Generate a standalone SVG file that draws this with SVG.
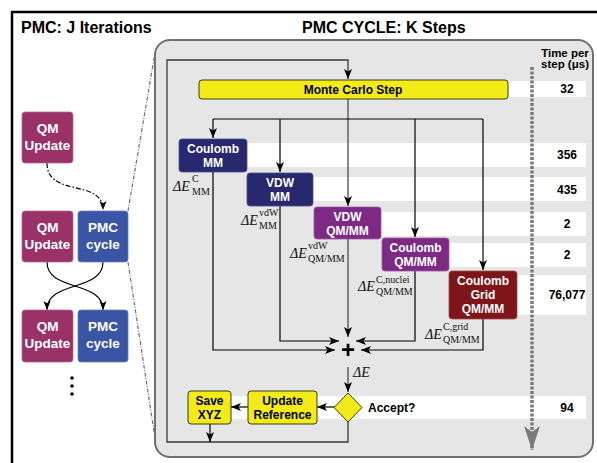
<svg xmlns="http://www.w3.org/2000/svg" width="597" height="463" viewBox="0 0 597 463">
  <style>
    .t { font-family: "Liberation Sans", Arial, sans-serif; font-weight: bold; }
    .title { font-size: 16px; fill: #000; }
    .node { font-size: 12px; fill: #fff; text-anchor: middle; }
    .big { font-size: 13.5px; fill: #fff; text-anchor: middle; }
    .ybox { font-size: 12px; fill: #000; text-anchor: middle; }
    .num { font-size: 12px; fill: #000; text-anchor: middle; }
    .m { font-family: "Liberation Serif", "Times New Roman", serif; fill: #111; }
    .mE { font-size: 14px; font-style: italic; }
    .ms { font-size: 10px; }
    .blk { fill: none; stroke: #000; stroke-width: 1.2; }
    .gry { fill: none; stroke: #6a6a6a; stroke-width: 1.6; }
    .loop { fill: none; stroke: #3a3a3a; stroke-width: 1.3; }
    .strip { fill: #fff; }
    .navy { fill: #27286e; stroke: #4a4c8c; stroke-width: 0.8; }
    .purp { fill: #7c2a84; stroke: #9a58a0; stroke-width: 0.8; }
    .red { fill: #7e1518; stroke: #9e4a4c; stroke-width: 0.8; }
    .qm { fill: #9a3167; stroke: #b76893; stroke-width: 0.8; }
    .pmc { fill: #3a54a6; stroke: #6b80c0; stroke-width: 0.8; }
    .yel { fill: #f3eb16; stroke: #3a3a1a; stroke-width: 1; }
  </style>
  <defs>
    <marker id="ah" viewBox="0 0 10 8" refX="10" refY="4" markerWidth="10" markerHeight="8" markerUnits="userSpaceOnUse" orient="auto">
      <path d="M0,0 L10,4 L0,8 L2.5,4 z" fill="#000"/>
    </marker>
    <marker id="ahs" viewBox="0 0 10 8" refX="10" refY="4" markerWidth="9" markerHeight="8" markerUnits="userSpaceOnUse" orient="auto">
      <path d="M0,0 L10,4 L0,8 L2.5,4 z" fill="#000"/>
    </marker>
    <marker id="ahg" viewBox="0 0 24 16" refX="24" refY="8" markerWidth="24" markerHeight="16" markerUnits="userSpaceOnUse" orient="auto">
      <path d="M0,0 L24,8 L0,16 L6,8 z" fill="#7a7a7a"/>
    </marker>
  </defs>

  <!-- outer frame -->
  <rect x="12" y="12" width="600" height="460" fill="#fff" stroke="#000" stroke-width="2.5"/>

  <text class="t title" x="21" y="33">PMC: J Iterations</text>
  <text class="t title" x="302" y="33">PMC CYCLE: K Steps</text>

  <!-- cycle panel -->
  <rect x="155" y="40" width="438" height="417" rx="15" fill="#e6e6e6" stroke="#707070" stroke-width="2"/>

  <!-- timing rows -->
  <g id="rows">
    <rect class="strip" x="500" y="81" width="86" height="16"/>
    <rect class="strip" x="247" y="143" width="339" height="24"/>
    <rect class="strip" x="313" y="177" width="273" height="24"/>
    <rect class="strip" x="381" y="212" width="205" height="24"/>
    <rect class="strip" x="449" y="243" width="137" height="24"/>
    <rect class="strip" x="517" y="275" width="69" height="40"/>
    <rect class="strip" x="231" y="396" width="355" height="23"/>
  </g>

  <!-- zoom guide lines -->
  <g id="guides" fill="none" stroke="#707070" stroke-width="1.2" stroke-dasharray="4 1.5 1 1.5">
    <line x1="128" y1="211" x2="155" y2="53"/>
    <line x1="128" y1="262" x2="155" y2="438"/>
  </g>

  <g id="connectors">
    <!-- left column -->
    <path class="blk" d="M47,163 C47,198 103,178 103,210" stroke-dasharray="5 2 1.5 2" marker-end="url(#ahs)"/>
    <path class="blk" d="M47,262 C47,292 103,280 103,310" marker-end="url(#ahs)"/>
    <path class="blk" d="M103,262 C103,292 47,280 47,310" marker-end="url(#ahs)"/>

    <!-- main loop -->
    <path class="loop" d="M348,422 V442 H167 V60 H348 V79" marker-end="url(#ah)"/>
    <path class="gry" d="M348,99 V206" marker-end="url(#ah)"/>
    <path class="gry" d="M348,239 V337" marker-end="url(#ah)"/>
    <path class="gry" d="M348,367 V392" marker-end="url(#ah)"/>

    <!-- fan out -->
    <path class="blk" d="M213,119 H483"/>
    <path class="blk" d="M213,119 V138" marker-end="url(#ah)"/>
    <path class="blk" d="M280,119 V172" marker-end="url(#ah)"/>
    <path class="blk" d="M415,119 V237" marker-end="url(#ah)"/>
    <path class="blk" d="M483,119 V270" marker-end="url(#ah)"/>

    <!-- fan in -->
    <path class="blk" d="M213,172 V350 H335" marker-end="url(#ah)"/>
    <path class="blk" d="M280,206 V341 H339" marker-end="url(#ah)"/>
    <path class="blk" d="M415,271 V341 H356" marker-end="url(#ah)"/>
    <path class="blk" d="M483,319 V350 H361" marker-end="url(#ah)"/>

    <!-- accept branch -->
    <path class="blk" d="M335,407 H317" marker-end="url(#ah)"/>
    <path class="blk" d="M248,407 H231" marker-end="url(#ah)"/>
    <path class="blk" d="M210,424 V442" marker-end="url(#ah)"/>

    <!-- time axis -->
    <path d="M532,67 V450" fill="none" stroke="#7a7a7a" stroke-width="3.5" stroke-dasharray="3 1.5" marker-end="url(#ahg)"/>
  </g>

  <!-- left column nodes -->
  <g id="qm-update-1">
    <rect class="qm" x="22" y="112" width="51" height="51" rx="3"/>
    <text class="t big" x="47.5" y="133">QM</text>
    <text class="t big" x="47.5" y="150">Update</text>
  </g>
  <g id="qm-update-2">
    <rect class="qm" x="22" y="211" width="51" height="51" rx="3"/>
    <text class="t big" x="47.5" y="232">QM</text>
    <text class="t big" x="47.5" y="249">Update</text>
  </g>
  <g id="pmc-cycle-2">
    <rect class="pmc" x="78" y="211" width="50" height="51" rx="3"/>
    <text class="t big" x="103" y="232">PMC</text>
    <text class="t big" x="103" y="249">cycle</text>
  </g>
  <g id="qm-update-3">
    <rect class="qm" x="22" y="310" width="51" height="52" rx="3"/>
    <text class="t big" x="47.5" y="331">QM</text>
    <text class="t big" x="47.5" y="348">Update</text>
  </g>
  <g id="pmc-cycle-3">
    <rect class="pmc" x="78" y="310" width="50" height="52" rx="3"/>
    <text class="t big" x="103" y="331">PMC</text>
    <text class="t big" x="103" y="348">cycle</text>
  </g>
  <g id="more">
    <circle cx="72" cy="378" r="1.8" fill="#000"/>
    <circle cx="72" cy="386" r="1.8" fill="#000"/>
    <circle cx="72" cy="394" r="1.8" fill="#000"/>
  </g>

  <!-- cycle nodes -->
  <g id="monte-carlo">
    <rect class="yel" x="199" y="80" width="309" height="19" rx="3"/>
    <text class="t ybox" x="353" y="94">Monte Carlo Step</text>
  </g>
  <g id="coulomb-mm">
    <rect class="navy" x="179" y="139" width="68" height="33" rx="3"/>
    <text class="t node" x="213" y="153">Coulomb</text>
    <text class="t node" x="213" y="167">MM</text>
  </g>
  <g id="vdw-mm">
    <rect class="navy" x="247" y="173" width="66" height="33" rx="3"/>
    <text class="t node" x="280" y="187">VDW</text>
    <text class="t node" x="280" y="201">MM</text>
  </g>
  <g id="vdw-qmmm">
    <rect class="purp" x="314" y="207" width="67" height="32" rx="3"/>
    <text class="t node" x="347.5" y="220.5">VDW</text>
    <text class="t node" x="347.5" y="234.5">QM/MM</text>
  </g>
  <g id="coulomb-qmmm">
    <rect class="purp" x="382" y="238" width="67" height="33" rx="3"/>
    <text class="t node" x="415.5" y="252">Coulomb</text>
    <text class="t node" x="415.5" y="266">QM/MM</text>
  </g>
  <g id="coulomb-grid">
    <rect class="red" x="449" y="271" width="68" height="48" rx="3"/>
    <text class="t node" x="483" y="285">Coulomb</text>
    <text class="t node" x="483" y="299">Grid</text>
    <text class="t node" x="483" y="313">QM/MM</text>
  </g>
  <g id="sum">
    <text class="t" x="348" y="358" font-size="24" text-anchor="middle">+</text>
  </g>
  <g id="accept">
    <polygon class="yel" points="348,393 362,407.5 348,422 334,407.5"/>
    <text class="t" x="368" y="412" font-size="12">Accept?</text>
  </g>
  <g id="update-reference">
    <rect class="yel" x="248" y="391" width="69" height="33" rx="3"/>
    <text class="t ybox" x="282.5" y="405">Update</text>
    <text class="t ybox" x="282.5" y="419">Reference</text>
  </g>
  <g id="save-xyz">
    <rect class="yel" x="188" y="391" width="43" height="33" rx="3"/>
    <text class="t ybox" x="209.5" y="405">Save</text>
    <text class="t ybox" x="209.5" y="419">XYZ</text>
  </g>

  <!-- energy terms -->
  <g id="energy-labels" class="m">
    <text class="mE" x="173" y="191">ΔE</text>
    <text class="ms" x="192" y="182">C</text>
    <text class="ms" x="192" y="195">MM</text>

    <text class="mE" x="241" y="225">ΔE</text>
    <text class="ms" x="259" y="216">vdW</text>
    <text class="ms" x="259" y="229">MM</text>

    <text class="mE" x="290" y="258">ΔE</text>
    <text class="ms" x="308" y="249">vdW</text>
    <text class="ms" x="308" y="262">QM/MM</text>

    <text class="mE" x="358" y="291">ΔE</text>
    <text class="ms" x="376" y="283">C,nuclei</text>
    <text class="ms" x="376" y="295">QM/MM</text>

    <text class="mE" x="425" y="339">ΔE</text>
    <text class="ms" x="443" y="330">C,grid</text>
    <text class="ms" x="443" y="343">QM/MM</text>

    <text class="mE" x="353" y="377">ΔE</text>
  </g>

  <!-- timings -->
  <g id="timings">
    <text class="t" x="565" y="57" font-size="11.5" text-anchor="middle">Time per</text>
    <text class="t" x="565" y="68" font-size="11.5" text-anchor="middle">step (μs)</text>
    <text class="t num" x="567" y="93">32</text>
    <text class="t num" x="567" y="159">356</text>
    <text class="t num" x="567" y="193.5">435</text>
    <text class="t num" x="567" y="228">2</text>
    <text class="t num" x="567" y="259">2</text>
    <text class="t num" x="567" y="299">76,077</text>
    <text class="t num" x="567" y="412">94</text>
  </g>
</svg>
